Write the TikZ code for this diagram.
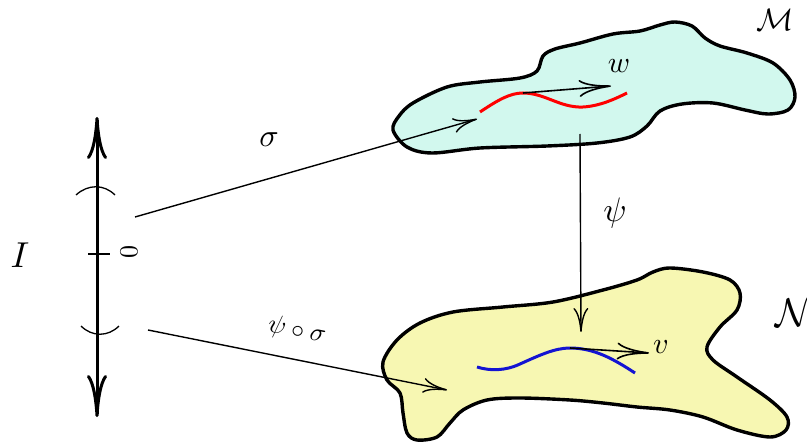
\documentclass[tikz,border=0pt]{standalone}
\usetikzlibrary{arrows.meta}
\definecolor{blobcyan}{RGB}{210,248,238}
\definecolor{blobyellow}{RGB}{247,247,178}
\definecolor{curveblue}{RGB}{20,20,210}
\begin{document}
\begin{tikzpicture}[x=1pt,y=-1pt,
  blob/.style={line width=3.4pt,line join=round},
  conn/.style={line width=1.4pt,-{To[length=24pt,width=15pt]}},
  tang/.style={line width=1.6pt,-{To[length=32pt,width=17pt]}},
  thinline/.style={line width=1.3pt},
  axisline/.style={line width=3pt,-{To[length=42pt,width=20pt]}},
  lbl/.style={inner sep=0pt}]
\useasboundingbox (0,0) rectangle (807,444);
% manifolds
\draw[blob,fill=blobcyan] plot[smooth cycle,tension=0.55] coordinates {
 (393,130) (399,116) (413,103) (447,87) (480,82) (520,78) (537,71) (543,56)
 (555,49) (580,43) (613,34) (640,31) (660,25) (675,22) (692,26) (705,38)
 (720,46) (747,53) (773,63) (790,80) (795,97) (788,110) (768,114) (745,110)
 (713,103) (682,104) (660,111) (647,126) (630,137) (597,143) (547,146)
 (480,148) (432,153) (407,147)};
\draw[blob,fill=blobyellow] plot[smooth cycle,tension=0.55] coordinates {
 (383,362) (397,340) (420,323) (453,312) (503,307) (553,302) (603,290)
 (637,280) (653,272) (670,268) (703,272) (730,280) (740,293) (737,310)
 (720,327) (707,347) (713,360) (737,377) (770,400) (787,417) (786,430)
 (770,437) (737,430) (703,417) (670,410) (637,407) (603,403) (570,400)
 (520,398) (487,400) (463,410) (450,423) (437,437) (417,440) (407,433)
 (403,413) (400,393) (387,380)};
% curves
\draw[red,line width=3pt] (480,112) .. controls (498,100) and (510,93) .. (523,93)
  .. controls (545,93) and (560,108) .. (583,107)
  .. controls (600,106) and (615,99) .. (627,93);
\draw[curveblue,line width=3pt] (477,367) .. controls (490,371) and (505,371) .. (520,364)
  .. controls (540,355) and (555,348) .. (570,348)
  .. controls (595,348) and (615,360) .. (635,373);
% coordinates
\coordinate (wS) at (523,93);
\coordinate (wE) at (611,86);
\coordinate (vS) at (570,348);
\coordinate (vE) at (649,353);
\coordinate (sigS) at (135,217);
\coordinate (sigE) at (477,119);
\coordinate (psS) at (148,330);
\coordinate (psE) at (447,390);
\coordinate (psiS) at (580,134);
\coordinate (psiE) at (581,332);
\coordinate (axT) at (97,117);
\coordinate (axC) at (97,254);
\coordinate (axB) at (97,417);
\coordinate (tkL) at (88,254);
\coordinate (tkR) at (110,254);
\coordinate (aTL) at (76,195);
\coordinate (aTR) at (115,195);
\coordinate (aBL) at (81,326);
\coordinate (aBR) at (119,326);
% tangent arrows
\draw[tang] (wS) -- (wE);
\draw[tang] (vS) -- (vE);
% maps
\draw[conn] (sigS) -- (sigE);
\draw[conn] (psS) -- (psE);
\draw[conn] (psiS) -- (psiE);
% interval
\draw[axisline] (axC) -- (axT);
\draw[axisline] (axC) -- (axB);
\draw[thinline] (tkL) -- (tkR);
\draw[thinline] (aTL) .. controls (88,184) and (104,184) .. (aTR);
\draw[thinline] (aBL) .. controls (92,337) and (108,337) .. (aBR);
% labels
\node[lbl,scale=3.6] (I) at (20,255) {$I$};
\node[lbl,scale=2.6,rotate=90] (zero) at (129,252) {$0$};
\node[lbl,scale=3.2] (sig) at (269,140) {$\sigma$};
\node[lbl,scale=2.6,rotate=-11] (ps) at (297,331) {$\psi\circ\sigma$};
\node[lbl,scale=3.4] (psi) at (615,213) {$\psi$};
\node[lbl,scale=3.1] (M) at (775,20) {$\mathcal{M}$};
\node[lbl,scale=4] (N) at (795,313) {$\mathcal{N}$};
\node[lbl,scale=3.0] (w) at (619,66) {$w$};
\node[lbl,scale=3.0] (v) at (661,347) {$v$};
\end{tikzpicture}
\end{document}
